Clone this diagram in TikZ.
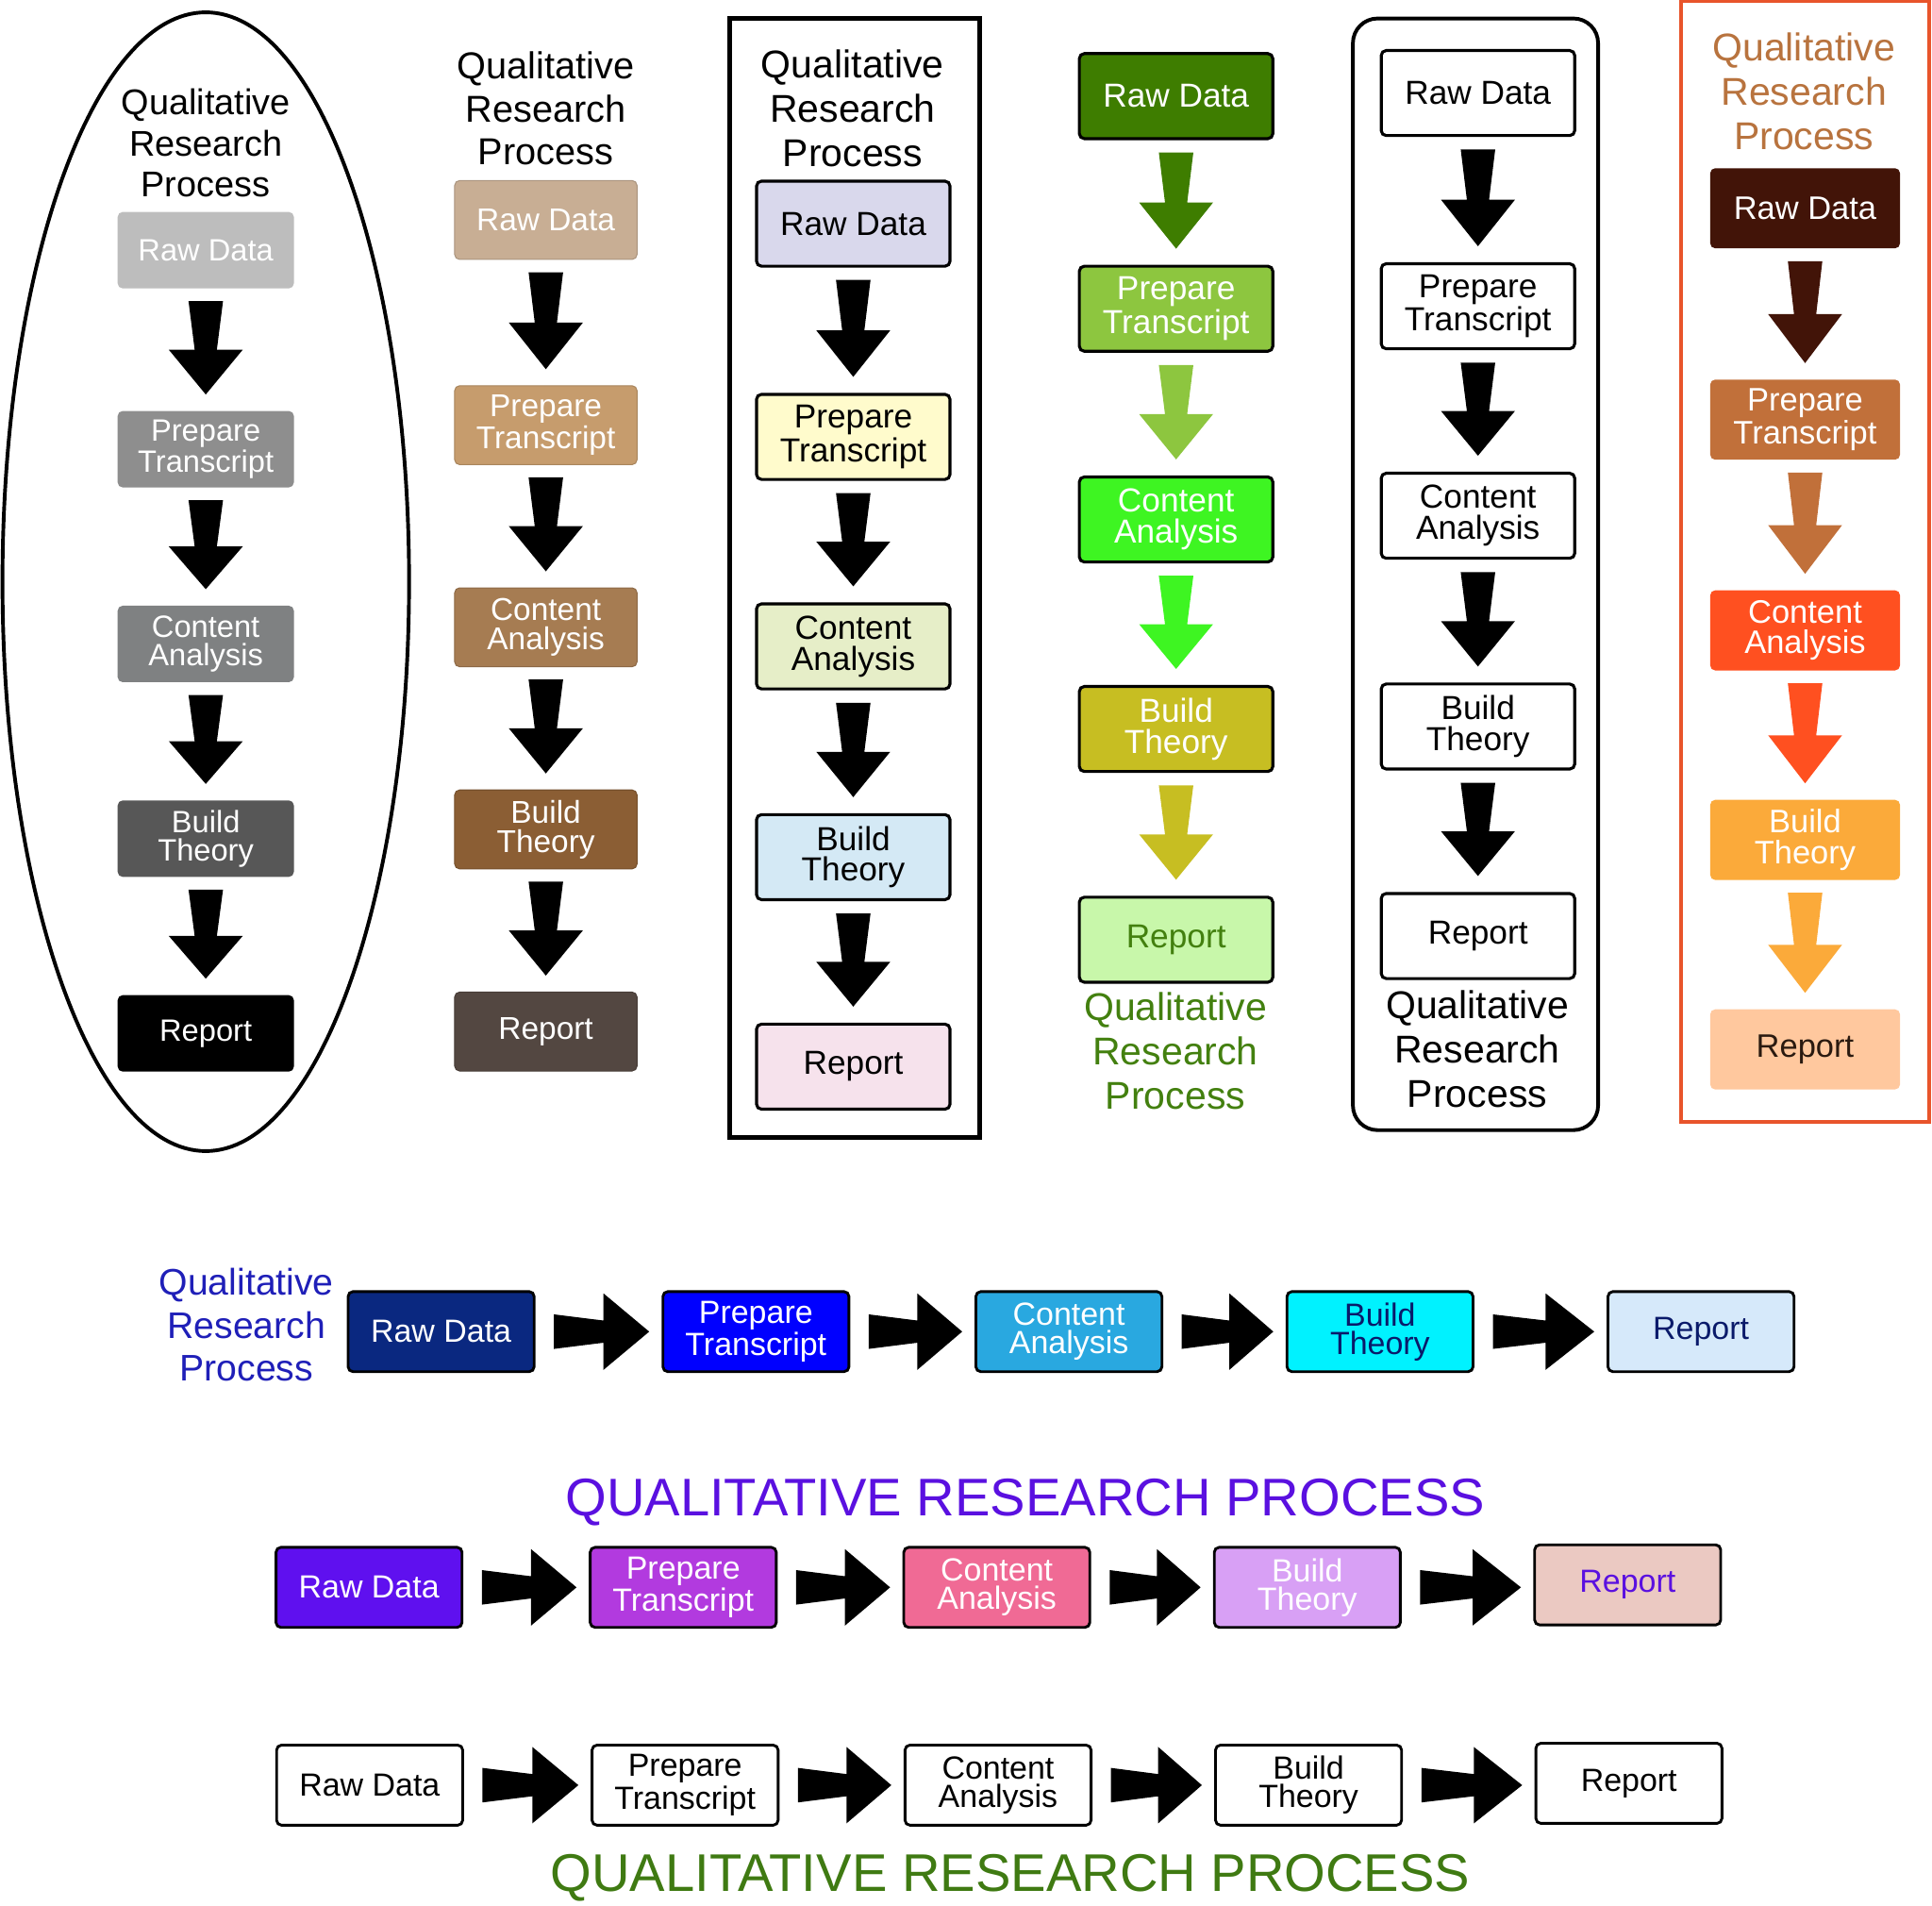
\documentclass[tikz,border=0pt]{standalone}
\usepackage{fontspec}
\setmainfont{Liberation Sans}
\usetikzlibrary{calc}
% column 1 (grays)
\definecolor{gA}{HTML}{BDBDBD}\definecolor{gB}{HTML}{8E8E8E}\definecolor{gC}{HTML}{7F8182}\definecolor{gD}{HTML}{575757}
% column 2 (tans)
\definecolor{tA}{HTML}{C8AE94}\definecolor{tB}{HTML}{C69C6D}\definecolor{tC}{HTML}{A67C52}\definecolor{tD}{HTML}{8B5E34}\definecolor{tE}{HTML}{534741}
% column 3 (pastels)
\definecolor{pA}{HTML}{D9D8EC}\definecolor{pB}{HTML}{FFFBCC}\definecolor{pC}{HTML}{E6EEC8}\definecolor{pD}{HTML}{D4E9F5}\definecolor{pE}{HTML}{F6E2EC}
% column 4 (greens)
\definecolor{vA}{HTML}{3E7D00}\definecolor{vB}{HTML}{8DC63F}\definecolor{vC}{HTML}{3EF522}\definecolor{vD}{HTML}{C7BE22}\definecolor{vE}{HTML}{C8F7AA}\definecolor{vT}{HTML}{43800F}
% column 6 (oranges)
\definecolor{oA}{HTML}{421408}\definecolor{oB}{HTML}{C1703A}\definecolor{oC}{HTML}{FF5020}\definecolor{oD}{HTML}{FBAA3A}\definecolor{oE}{HTML}{FFC89E}\definecolor{oF}{HTML}{E8542B}\definecolor{oT}{HTML}{B8733E}\definecolor{oR}{HTML}{2A1A10}
% row 1 (blues)
\definecolor{bA}{HTML}{0A2880}\definecolor{bB}{HTML}{0000FF}\definecolor{bC}{HTML}{29A8E0}\definecolor{bD}{HTML}{00F2FF}\definecolor{bE}{HTML}{D6E9FA}\definecolor{bT}{HTML}{1F1FB8}\definecolor{bN}{HTML}{0A1A6A}
% row 2 (purples)
\definecolor{uA}{HTML}{5F10EF}\definecolor{uB}{HTML}{B23ADF}\definecolor{uC}{HTML}{F06A95}\definecolor{uD}{HTML}{D8A0F5}\definecolor{uE}{HTML}{EBC9C2}\definecolor{uT}{HTML}{5A10E0}
% row 3
\definecolor{gT}{HTML}{3F7A12}

\newcommand{\vArr}[3]{\fill[#1] let \p1=(#2.south), \p2=(#3.north), \n1={\y1-5pt}, \n2={\y2+6.5pt}, \n3={\n2+0.48*(\n1-\n2)} in
  (\x1-7pt,\n1) -- (\x1+7pt,\n1) -- (\x1+4.5pt,\n3) -- (\x1+15pt,\n3) -- (\x1,\n2) -- (\x1-15pt,\n3) -- (\x1-4.5pt,\n3) -- cycle;}
\newcommand{\hArr}[3]{\fill[#1] let \p1=(#2.east), \p2=(#3.west), \n1={\x1+7.5pt}, \n2={\x2-5pt}, \n3={\n2-0.48*(\n2-\n1)} in
  (\n1,\y1+7pt) -- (\n3,\y1+4.5pt) -- (\n3,\y1+15.5pt) -- (\n2,\y1) -- (\n3,\y1-15.5pt) -- (\n3,\y1-4.5pt) -- (\n1,\y1-7pt) -- cycle;}

\tikzset{
  bx/.style={rectangle, rounded corners=2pt, align=center, inner sep=0pt, text=white},
  cA/.style={bx, minimum width=71.5pt, minimum height=31pt, font=\fontsize{12.5}{11.5}\selectfont},
  cB/.style={bx, minimum width=74pt, minimum height=32pt, font=\fontsize{12.8}{11.8}\selectfont, draw=#1!85!black, fill=#1, line width=0.4pt},
  cC/.style={bx, minimum width=78.5pt, minimum height=34.5pt, font=\fontsize{13.5}{12.5}\selectfont, draw=black, line width=1.2pt, fill=#1, text=black},
  cD/.style={bx, minimum width=78.5pt, minimum height=34.5pt, font=\fontsize{13.5}{12.5}\selectfont, draw=black, line width=1.2pt, fill=#1},
  cF/.style={bx, minimum width=77pt, minimum height=32.5pt, font=\fontsize{13.2}{12.3}\selectfont, fill=#1},
  rA/.style={bx, minimum width=75.5pt, minimum height=32.5pt, font=\fontsize{13}{11.5}\selectfont, draw=black, line width=1.1pt, fill=#1},
  ttl/.style={align=center, inner sep=0pt},
  big/.style={inner sep=0pt, font=\fontsize{21.5}{24}\selectfont},
}

\begin{document}
\begin{tikzpicture}[x=0.5pt, y=-0.5pt]
\useasboundingbox (0,0) rectangle (1568,1546);

% ---------- column 1 : ellipse, grays ----------
\draw[line width=1.5pt] (167,472) ellipse [x radius=82.5pt, y radius=231pt];
\node[ttl, font=\fontsize{14.5}{16.75}\selectfont] (t1) at (167,116) {Qualitative\\Research\\Process};
\node[cA, fill=gA] (a1) at (167,203) {Raw Data};
\node[cA, fill=gB] (a2) at (167,364.5) {Prepare\\Transcript};
\node[cA, fill=gC] (a3) at (167,522.5) {Content\\Analysis};
\node[cA, fill=gD] (a4) at (167,680.5) {Build\\Theory};
\node[cA, fill=black] (a5) at (167,838.5) {Report};
\vArr{black}{a1}{a2}\vArr{black}{a2}{a3}\vArr{black}{a3}{a4}\vArr{black}{a4}{a5}

% ---------- column 2 : tans ----------
\node[ttl, font=\fontsize{15.2}{17.5}\selectfont] (t2) at (443,88) {Qualitative\\Research\\Process};
\node[cB=tA] (b1) at (443,178.5) {Raw Data};
\node[cB=tB] (b2) at (443,345) {Prepare\\Transcript};
\node[cB=tC] (b3) at (443,509) {Content\\Analysis};
\node[cB=tD] (b4) at (443,673) {Build\\Theory};
\node[cB=tE] (b5) at (443,837) {Report};
\vArr{black}{b1}{b2}\vArr{black}{b2}{b3}\vArr{black}{b3}{b4}\vArr{black}{b4}{b5}

% ---------- column 3 : square frame, pastels ----------
\draw[line width=1.75pt] (592,15) rectangle (795,923);
\node[ttl, font=\fontsize{15.7}{18}\selectfont] (t3) at (692,88) {Qualitative\\Research\\Process};
\node[cC=pA] (c1) at (692.5,181.5) {Raw Data};
\node[cC=pB] (c2) at (692.5,354.5) {Prepare\\Transcript};
\node[cC=pC] (c3) at (692.5,524.5) {Content\\Analysis};
\node[cC=pD] (c4) at (692.5,695.5) {Build\\Theory};
\node[cC=pE] (c5) at (692.5,865.5) {Report};
\vArr{black}{c1}{c2}\vArr{black}{c2}{c3}\vArr{black}{c3}{c4}\vArr{black}{c4}{c5}

% ---------- column 4 : greens ----------
\node[cD=vA] (d1) at (954.5,78) {Raw Data};
\node[cD=vB] (d2) at (954.5,250.5) {Prepare\\Transcript};
\node[cD=vC] (d3) at (954.5,421.5) {Content\\Analysis};
\node[cD=vD] (d4) at (954.5,591.5) {Build\\Theory};
\node[cD=vE, text=vT] (d5) at (954.5,762.5) {Report};
\vArr{vA}{d1}{d2}\vArr{vB}{d2}{d3}\vArr{vC}{d3}{d4}\vArr{vD}{d4}{d5}
\node[ttl, text=vT, font=\fontsize{15.7}{18}\selectfont] (t4) at (954,853) {Qualitative\\Research\\Process};

% ---------- column 5 : rounded frame, white ----------
\draw[line width=1.5pt, rounded corners=10pt] (1098,15) rectangle (1297,917);
\node[cC=white] (e1) at (1199.5,75.5) {Raw Data};
\node[cC=white] (e2) at (1199.5,248.5) {Prepare\\Transcript};
\node[cC=white] (e3) at (1199.5,418.5) {Content\\Analysis};
\node[cC=white] (e4) at (1199.5,589.5) {Build\\Theory};
\node[cC=white] (e5) at (1199.5,759.5) {Report};
\vArr{black}{e1}{e2}\vArr{black}{e2}{e3}\vArr{black}{e3}{e4}\vArr{black}{e4}{e5}
\node[ttl, font=\fontsize{15.7}{18}\selectfont] (t5) at (1199,851) {Qualitative\\Research\\Process};

% ---------- column 6 : orange frame, oranges ----------
\draw[line width=1.5pt, draw=oF] (1364,1) rectangle (1566,910);
\node[ttl, text=oT, font=\fontsize{15.7}{18}\selectfont] (t6) at (1464,74) {Qualitative\\Research\\Process};
\node[cF=oA] (f1) at (1465,169) {Raw Data};
\node[cF=oB] (f2) at (1465,340.5) {Prepare\\Transcript};
\node[cF=oC] (f3) at (1465,511.5) {Content\\Analysis};
\node[cF=oD] (f4) at (1465,681.5) {Build\\Theory};
\node[cF=oE, text=oR] (f5) at (1465,851.5) {Report};
\vArr{oA}{f1}{f2}\vArr{oB}{f2}{f3}\vArr{oC}{f3}{f4}\vArr{oD}{f4}{f5}

% ---------- row 1 : blues ----------
\node[ttl, text=bT, font=\fontsize{15}{17.5}\selectfont] (t7) at (200,1075) {Qualitative\\Research\\Process};
\node[rA=bA] (g1) at (358,1080.5) {Raw Data};
\node[rA=bB] (g2) at (613.5,1080.5) {Prepare\\Transcript};
\node[rA=bC] (g3) at (867.5,1080.5) {Content\\Analysis};
\node[rA=bD, text=bN] (g4) at (1120,1080.5) {Build\\Theory};
\node[rA=bE, text=bN] (g5) at (1380.5,1080.5) {Report};
\hArr{black}{g1}{g2}\hArr{black}{g2}{g3}\hArr{black}{g3}{g4}\hArr{black}{g4}{g5}

% ---------- row 2 : purples ----------
\node[big, text=uT] (t8) at (832,1219) {QUALITATIVE RESEARCH PROCESS};
\node[rA=uA] (h1) at (299.5,1288) {Raw Data};
\node[rA=uB] (h2) at (554.5,1288) {Prepare\\Transcript};
\node[rA=uC] (h3) at (809,1288) {Content\\Analysis};
\node[rA=uD] (h4) at (1061,1288) {Build\\Theory};
\node[rA=uE, text=uT] (h5) at (1321,1286) {Report};
\hArr{black}{h1}{h2}\hArr{black}{h2}{h3}\hArr{black}{h3}{h4}\hArr{black}{h4}{h5}

% ---------- row 3 : white ----------
\node[rA=white, text=black] (k1) at (300,1448.5) {Raw Data};
\node[rA=white, text=black] (k2) at (556,1448.5) {Prepare\\Transcript};
\node[rA=white, text=black] (k3) at (810,1448.5) {Content\\Analysis};
\node[rA=white, text=black] (k4) at (1062,1448.5) {Build\\Theory};
\node[rA=white, text=black] (k5) at (1322,1447) {Report};
\hArr{black}{k1}{k2}\hArr{black}{k2}{k3}\hArr{black}{k3}{k4}\hArr{black}{k4}{k5}
\node[big, text=gT] (t9) at (820,1524) {QUALITATIVE RESEARCH PROCESS};
\end{tikzpicture}
\end{document}
